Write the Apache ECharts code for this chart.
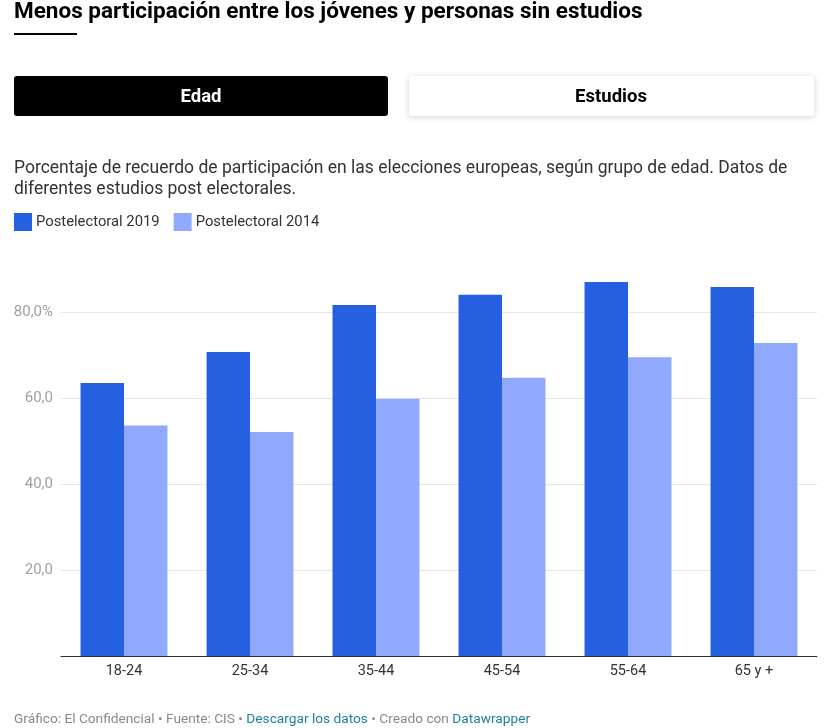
<!DOCTYPE html>
<html>
<head>
<meta charset="utf-8">
<script src="https://cdn.jsdelivr.net/npm/echarts@6/dist/echarts.min.js"></script>
<style>
html,body{margin:0;padding:0;background:#fff;}
#c{width:839px;height:728px;}
</style>
</head>
<body>
<div id="c"></div>
<script>
const categories = ['18-24', '25-34', '35-44', '45-54', '55-64', '65 y +'];
const seriesNames = ['Postelectoral 2019', 'Postelectoral 2014'];
const values2019 = [63.5, 70.7, 81.6, 84.0, 87.0, 85.8];
const values2014 = [53.6, 52.1, 59.8, 64.7, 69.5, 72.8];
const yTicks = [0, 20, 40, 60, 80, 100];

const FONT = 'Roboto, "Noto Sans", sans-serif';
const chart = echarts.init(document.getElementById('c'), null, {renderer: 'canvas'});

chart.setOption({
  backgroundColor: '#fff',
  animation: false,
  textStyle: {fontFamily: FONT},
  title: [
    {
      text: 'Menos participación entre los jóvenes y personas sin estudios',
      left: 14, top: 1, padding: 0,
      textStyle: {fontFamily: FONT, fontSize: 22.5, fontWeight: 'bold', color: '#000'}
    },
    {
      text: 'Porcentaje de recuerdo de participación en las elecciones europeas, según grupo de edad. Datos de\ndiferentes estudios post electorales.',
      left: 14, top: 158, padding: 0,
      textStyle: {fontFamily: FONT, fontSize: 17.5, fontWeight: 'normal', color: '#333', lineHeight: 21}
    },
    {
      text: '{g|Gráfico: El Confidencial • Fuente: CIS • }{b|Descargar los datos}{g| • Creado con }{b|Datawrapper}',
      left: 14, top: 713, padding: 0,
      textStyle: {
        fontFamily: FONT, fontSize: 13.7, fontWeight: 'normal',
        rich: {
          g: {color: '#888', fontSize: 13.7, fontFamily: FONT},
          b: {color: '#1d81a2', fontSize: 13.7, fontFamily: FONT}
        }
      }
    }
  ],
  graphic: [
    {type: 'rect', shape: {x: 14, y: 33, width: 63, height: 2}, style: {fill: '#000'}},
    {type: 'rect', shape: {x: 14, y: 76, width: 374, height: 40, r: 3}, style: {fill: '#000'}},
    {type: 'text', x: 201, y: 97, style: {text: 'Edad', fill: '#fff', font: 'bold 18.5px ' + FONT, textAlign: 'center', textVerticalAlign: 'middle'}},
    {type: 'rect', shape: {x: 409, y: 76, width: 405, height: 40, r: 3},
     style: {fill: '#fff', shadowBlur: 6, shadowColor: 'rgba(0,0,0,0.18)', shadowOffsetY: 1}},
    {type: 'text', x: 611, y: 97, style: {text: 'Estudios', fill: '#000', font: 'bold 18.5px ' + FONT, textAlign: 'center', textVerticalAlign: 'middle'}}
  ],
  legend: {
    left: 14, top: 213, padding: 0,
    icon: 'rect', itemWidth: 18, itemHeight: 18, itemGap: 14,
    textStyle: {fontFamily: FONT, fontSize: 14.8, color: '#333', padding: [0, 0, 0, -1]},
    data: seriesNames
  },
  grid: {left: 61, right: 22, top: 226, bottom: 72, containLabel: false},
  xAxis: {
    type: 'category',
    data: categories,
    axisLine: {lineStyle: {color: '#333', width: 1}},
    axisTick: {show: false},
    axisLabel: {color: '#333', fontSize: 14.5, fontFamily: FONT, margin: 8}
  },
  yAxis: {
    type: 'value',
    min: yTicks[0], max: yTicks[yTicks.length - 1], interval: 20,
    axisLine: {show: false},
    axisTick: {show: false},
    splitLine: {show: true, showMaxLine: false, showMinLine: false, lineStyle: {color: '#e6e6e6', width: 1}},
    axisLabel: {
      color: '#a0a0a0', fontSize: 15, fontFamily: FONT, margin: 8,
      formatter: function (v) {
        if (v === 0 || v === 100) return '';
        return v + ',0' + (v === 80 ? '%' : '');
      }
    }
  },
  series: [
    {name: seriesNames[0], type: 'bar', data: values2019, barGap: '0%', barCategoryGap: '31%', itemStyle: {color: '#2560e0'}},
    {name: seriesNames[1], type: 'bar', data: values2014, barGap: '0%', barCategoryGap: '31%', itemStyle: {color: '#91a9fd'}}
  ]
});
</script>
</body>
</html>
